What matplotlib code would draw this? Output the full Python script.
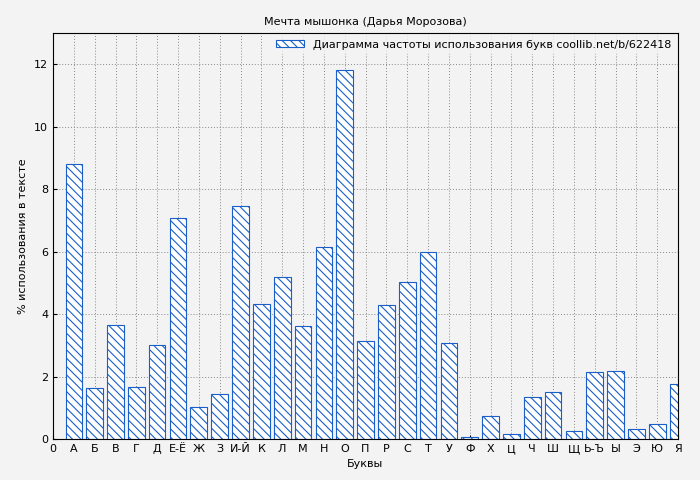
import matplotlib
matplotlib.use("Agg")
import matplotlib.pyplot as plt

letters = ["А","Б","В","Г","Д","Е-Ё","Ж","З","И-Й","К","Л","М","Н","О","П","Р","С","Т","У","Ф","Х","Ц","Ч","Ш","Щ","Ь-Ъ","Ы","Э","Ю","Я"]
values = [8.8,1.63,3.65,1.66,3.0,7.07,1.02,1.44,7.46,4.32,5.18,3.62,6.14,11.8,3.14,4.29,5.02,5.98,3.07,0.06,0.74,0.16,1.34,1.5,0.26,2.14,2.18,0.32,0.48,1.76]

plt.rcParams['hatch.color'] = '#1a5fc8'
plt.rcParams['hatch.linewidth'] = 0.8
fig = plt.figure(figsize=(7, 4.8), dpi=100, facecolor='#f3f3f3')
ax = fig.add_axes([53/700, 1-439/480, 625/700, 406/480], facecolor='#f3f3f3')
x = list(range(1, len(letters)+1))
ax.bar(x, values, width=0.8, color='white', edgecolor='#1a5fc8', hatch='\\\\\\\\', linewidth=0.8,
       label='Диаграмма частоты использования букв coollib.net/b/622418')
ax.set_xlim(0, 30)
ax.set_ylim(0, 13)
ax.set_xticks([0]+x)
ax.set_xticklabels(["0"]+letters, fontsize=8)
ax.set_yticks(range(0, 13, 2))
ax.tick_params(axis='y', labelsize=8)
ax.tick_params(direction='in', length=3)
ax.grid(True, color='#888888', linestyle=(0, (1, 2)), linewidth=0.7)
ax.set_axisbelow(True)
ax.set_xlabel('Буквы', fontsize=8)
ax.set_ylabel('% использования в тексте', fontsize=8)
ax.set_title('Мечта мышонка (Дарья Морозова)', fontsize=8)
leg = ax.legend(loc='upper right', fontsize=8, frameon=True, handlelength=2.5, handleheight=0.6, borderaxespad=0.2)
leg.get_frame().set_facecolor('#f3f3f3')
leg.get_frame().set_edgecolor('none')
fig.savefig('out.png', facecolor='#f3f3f3')
